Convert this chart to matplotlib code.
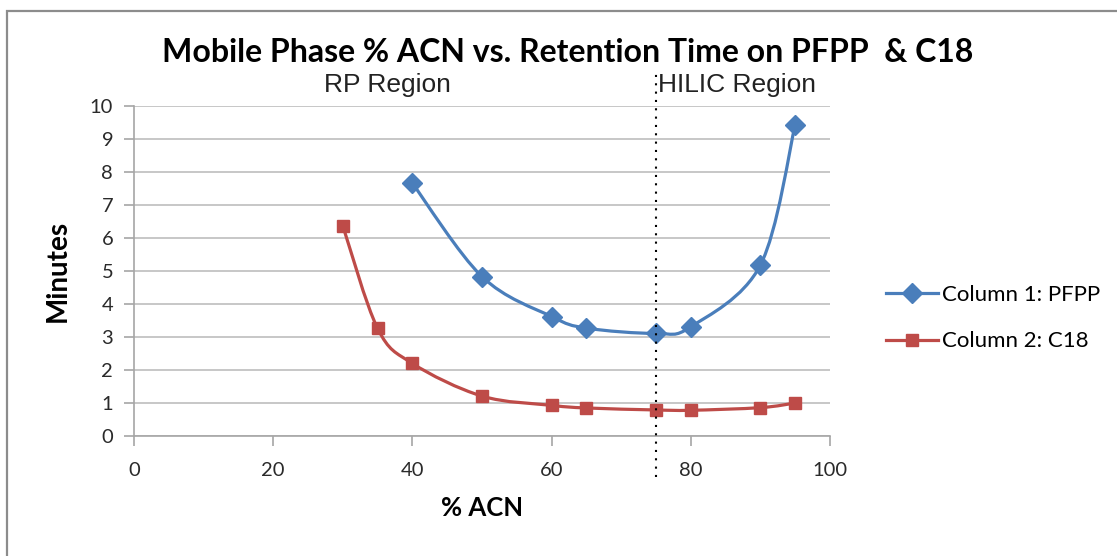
import matplotlib
matplotlib.use("Agg")
import matplotlib.pyplot as plt
from matplotlib.path import Path
from matplotlib.patches import PathPatch, Rectangle
from matplotlib.lines import Line2D

# data
acn_pfpp = [40, 50, 60, 65, 75, 80, 90, 95]
rt_pfpp = [7.65, 4.82, 3.61, 3.26, 3.10, 3.30, 5.17, 9.42]
acn_c18 = [30, 35, 40, 50, 60, 65, 75, 80, 90, 95]
rt_c18 = [6.36, 3.25, 2.19, 1.20, 0.92, 0.84, 0.78, 0.77, 0.85, 0.99]
boundary = 75

blue = "#4A7EBB"
red = "#BE4B48"
grid_c = "#BDBDBD"
font = "Lato"


def smooth_path(xs, ys):
    # Excel style smoothed line: cubic bezier through the points
    pts = list(zip(xs, ys))
    verts = [pts[0]]
    codes = [Path.MOVETO]
    n = len(pts)
    for i in range(n - 1):
        p0 = pts[i - 1] if i > 0 else pts[i]
        p1 = pts[i]
        p2 = pts[i + 1]
        p3 = pts[i + 2] if i + 2 < n else pts[i + 1]
        c1 = (p1[0] + (p2[0] - p0[0]) / 6, p1[1] + (p2[1] - p0[1]) / 6)
        c2 = (p2[0] - (p3[0] - p1[0]) / 6, p2[1] - (p3[1] - p1[1]) / 6)
        verts += [c1, c2, p2]
        codes += [Path.CURVE4] * 3
    return Path(verts, codes)


fig = plt.figure(figsize=(11.17, 5.56), dpi=100)
ax = fig.add_axes([134 / 1117, 1 - 435.7 / 556, (830 - 134) / 1117, (435.7 - 105.7) / 556])

# outer chart border
fig.patches.append(Rectangle((7 / 1117, -0.1), 1.2, 1 - 11 / 556 + 0.1, transform=fig.transFigure,
                             fill=False, edgecolor="#8C8C8C", linewidth=1.6))

ax.add_patch(PathPatch(smooth_path(acn_pfpp, rt_pfpp), fill=False, edgecolor=blue, linewidth=2.3, zorder=3))
ax.add_patch(PathPatch(smooth_path(acn_c18, rt_c18), fill=False, edgecolor=red, linewidth=2.3, zorder=3))
ax.plot(acn_pfpp, rt_pfpp, linestyle="none", marker="D", markersize=10, color=blue, zorder=4)
ax.plot(acn_c18, rt_c18, linestyle="none", marker="s", markersize=8.5, color=red, zorder=4)

# RP / HILIC boundary
ax.plot([boundary, boundary], [-1.25, 11.0], color="black", linestyle=(0, (1, 3)), linewidth=1.5,
        clip_on=False, zorder=5)

ax.set_xlim(0, 100)
ax.set_ylim(0, 10)
ax.set_xticks(range(0, 101, 20))
ax.set_yticks(range(0, 11))
ax.grid(axis="y", color=grid_c, linewidth=1.2)
ax.set_axisbelow(True)
for s in ["top", "right"]:
    ax.spines[s].set_visible(False)
for s in ["left", "bottom"]:
    ax.spines[s].set_color("#A6A6A6")
    ax.spines[s].set_linewidth(1.2)
ax.tick_params(length=7, width=1.2, color="#A6A6A6", labelsize=14.5, labelcolor="#2A2A2A")
ax.tick_params(axis="x", pad=12)
ax.tick_params(axis="y", pad=8)
for lab in ax.get_xticklabels() + ax.get_yticklabels():
    lab.set_fontfamily(font)

ax.set_xlabel("% ACN", fontsize=18.5, fontweight="bold", fontfamily=font, labelpad=12)
ax.set_ylabel("Minutes", fontsize=20, fontweight="bold", fontfamily=font, labelpad=14)

fig.text(568 / 1117, 1 - 52 / 556, "Mobile Phase % ACN vs. Retention Time on PFPP  & C18",
         ha="center", va="center", fontsize=23, fontweight="bold", fontfamily=font)
fig.text(387 / 1117, 1 - 85 / 556, "RP Region", ha="center", va="center", fontsize=19,
         fontfamily="Liberation Sans", color="#222222")
fig.text(658 / 1117, 1 - 85 / 556, "HILIC Region", ha="left", va="center", fontsize=19,
         fontfamily="Liberation Sans", color="#222222")

handles = [Line2D([], [], color=blue, linewidth=2.3, marker="D", markersize=10),
           Line2D([], [], color=red, linewidth=2.3, marker="s", markersize=8.5)]
fig.legend(handles, ["Column 1: PFPP", "Column 2: C18"], loc="center left",
           bbox_to_anchor=(866 / 1117, 1 - 318 / 556), frameon=False, handlelength=2.35,
           handletextpad=0.15, labelspacing=1.2, prop={"family": font, "size": 16})

fig.savefig("out.png", dpi=100)
